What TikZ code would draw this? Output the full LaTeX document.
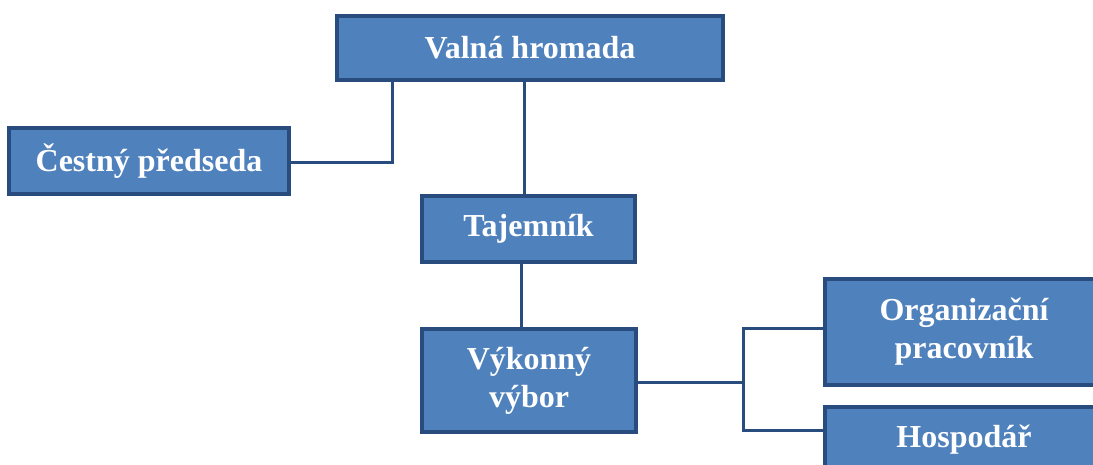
\documentclass[tikz,border=0pt]{standalone}
\usepackage{fontspec}
\setmainfont{Liberation Serif}
\definecolor{boxfill}{HTML}{4F81BD}
\definecolor{boxline}{HTML}{284C7E}
\begin{document}
\begin{tikzpicture}[x=1pt,y=-1pt,
  orgbox/.style={draw=boxline, line width=3.5pt, fill=boxfill, text=white,
    font=\fontsize{32}{38}\selectfont\bfseries, align=center, inner sep=0pt},
  conn/.style={draw=boxline, line width=3pt}]
\useasboundingbox (0,0) rectangle (1093,464);
\clip (0,0) rectangle (1093,464);
\node[orgbox, minimum width=386pt, minimum height=64pt] (vh) at (530,48) {Valná hromada};
\node[orgbox, minimum width=280pt, minimum height=66pt] (cp) at (149,161) {Čestný předseda};
\node[orgbox, minimum width=213pt, minimum height=66pt] (taj) at (528.5,229) {Tajemník};
\node[orgbox, minimum width=214pt, minimum height=103pt] (vv) at (529,380.5) {Výkonný\\výbor};
\node[orgbox, minimum width=278pt, minimum height=106pt] (op) at (964,332) {Organizační\\pracovník};
\node[orgbox, minimum width=278pt, minimum height=66pt] (hos) at (964,440) {Hospodář};
\coordinate (bx) at (743,382);
\draw[conn] (vh.south -| 392,0) |- (cp.east |- 0,162);
\draw[conn] (vh.south -| 524,0) -- (taj.north -| 524,0);
\draw[conn] (taj.south -| 521,0) -- (vv.north -| 521,0);
\draw[conn] (vv.east |- bx) -- (bx);
\draw[conn] (bx) |- (op.west |- 0,328);
\draw[conn] (bx) |- (hos.west |- 0,430);
\end{tikzpicture}
\end{document}
